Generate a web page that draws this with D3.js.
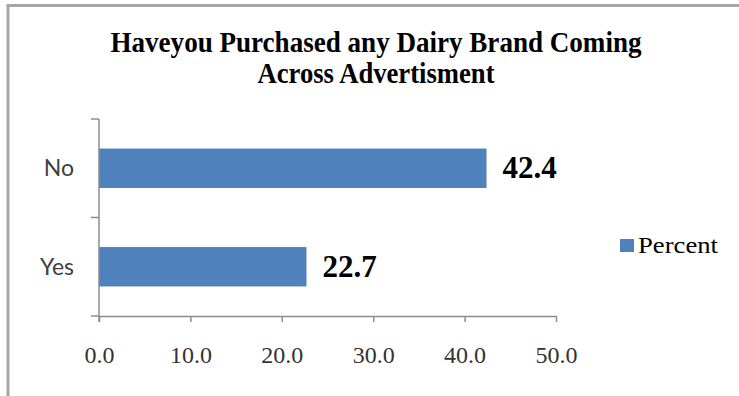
<!DOCTYPE html>
<html>
<head>
<meta charset="utf-8">
<script src="https://cdn.jsdelivr.net/npm/d3@7/dist/d3.min.js"></script>
<style>
  html, body { margin: 0; padding: 0; background: #fff; }
  svg { display: block; }
</style>
</head>
<body>
<svg id="chart" width="739" height="396"></svg>
<script>
// Survey answers and their share of respondents (%)
const categories = ["No", "Yes"];
const percentValues = [42.4, 22.7];
const xTicks = [0, 10, 20, 30, 40, 50];
const titleLines = ["Haveyou Purchased any Dairy Brand Coming", "Across Advertisment"];
const seriesName = "Percent";

const barColor = "#4f81bd";
const axisColor = "#8c8c8c";

const svg = d3.select("#chart");

// outer chart frame (left and top edges)
svg.append("line").attr("x1", 8).attr("x2", 8).attr("y1", 5).attr("y2", 396)
  .attr("stroke", "#a6a6a6").attr("stroke-width", 3);
svg.append("line").attr("x1", 6.5).attr("x2", 739).attr("y1", 5.5).attr("y2", 5.5)
  .attr("stroke", "#a6a6a6").attr("stroke-width", 3);

// title
const titleWidths = [531, 237];
const titleBaselines = [52, 83];
svg.selectAll("text.title").data(titleLines).join("text")
  .attr("class", "title")
  .attr("x", 376)
  .attr("y", (d, i) => titleBaselines[i])
  .attr("text-anchor", "middle")
  .attr("textLength", (d, i) => titleWidths[i])
  .attr("lengthAdjust", "spacingAndGlyphs")
  .style("font-family", "'Liberation Serif', 'Times New Roman', serif")
  .style("font-weight", "bold")
  .style("font-size", "29px")
  .attr("fill", "#000")
  .text(d => d);

// scales
const x = d3.scaleLinear().domain([0, 50]).range([99, 556]);
const y = d3.scaleBand().domain(categories).range([119, 316])
  .paddingInner(0.6).paddingOuter(0.3);

// bars
svg.selectAll("rect.bar").data(categories).join("rect")
  .attr("class", "bar")
  .attr("x", x(0))
  .attr("y", d => y(d))
  .attr("width", (d, i) => x(percentValues[i]) - x(0))
  .attr("height", y.bandwidth())
  .attr("fill", barColor);

// x axis
const xAxis = svg.append("g").attr("transform", "translate(0,316)")
  .call(d3.axisBottom(x).tickValues(xTicks).tickSize(6).tickSizeOuter(0)
    .tickFormat(d3.format(".1f")));
xAxis.select(".domain").attr("stroke", axisColor).attr("stroke-width", 1.5);
xAxis.selectAll(".tick line").attr("stroke", axisColor).attr("stroke-width", 1.5);
xAxis.selectAll(".tick text")
  .attr("y", 0).attr("dy", "47px")
  .style("font-family", "'Liberation Serif', 'Times New Roman', serif")
  .style("font-size", "24px")
  .attr("fill", "#333");

// y axis: line with tick marks at band boundaries
const yAxisG = svg.append("g");
yAxisG.append("line")
  .attr("x1", x(0)).attr("x2", x(0)).attr("y1", 119).attr("y2", 322)
  .attr("stroke", axisColor).attr("stroke-width", 1.5);
const boundaries = [119, 119 + y.step(), 316];
yAxisG.selectAll("line.ytick").data(boundaries).join("line")
  .attr("class", "ytick")
  .attr("x1", x(0) - 8).attr("x2", x(0))
  .attr("y1", d => d).attr("y2", d => d)
  .attr("stroke", axisColor).attr("stroke-width", 1.5);
yAxisG.selectAll("text.ylabel").data(categories).join("text")
  .attr("class", "ylabel")
  .attr("x", 74)
  .attr("y", d => y(d) + y.bandwidth() / 2 + 8)
  .attr("text-anchor", "end")
  .style("font-family", "Lato, 'Open Sans', sans-serif")
  .style("font-size", "23px")
  .attr("fill", "#404040")
  .text(d => d);

// value labels
svg.selectAll("text.value").data(categories).join("text")
  .attr("class", "value")
  .attr("x", (d, i) => x(percentValues[i]) + 16)
  .attr("y", d => y(d) + y.bandwidth() / 2 + 10)
  .style("font-family", "'Liberation Serif', 'Times New Roman', serif")
  .style("font-weight", "bold")
  .style("font-size", "31px")
  .attr("fill", "#000")
  .text((d, i) => percentValues[i].toFixed(1));

// legend
const legend = svg.append("g").attr("transform", "translate(620,239)");
legend.append("rect").attr("width", 14).attr("height", 13).attr("fill", barColor);
legend.append("text")
  .attr("x", 18).attr("y", 14)
  .attr("textLength", 80)
  .attr("lengthAdjust", "spacingAndGlyphs")
  .style("font-family", "'Liberation Serif', 'Times New Roman', serif")
  .style("font-size", "24px")
  .attr("fill", "#000")
  .text(seriesName);
</script>
</body>
</html>
